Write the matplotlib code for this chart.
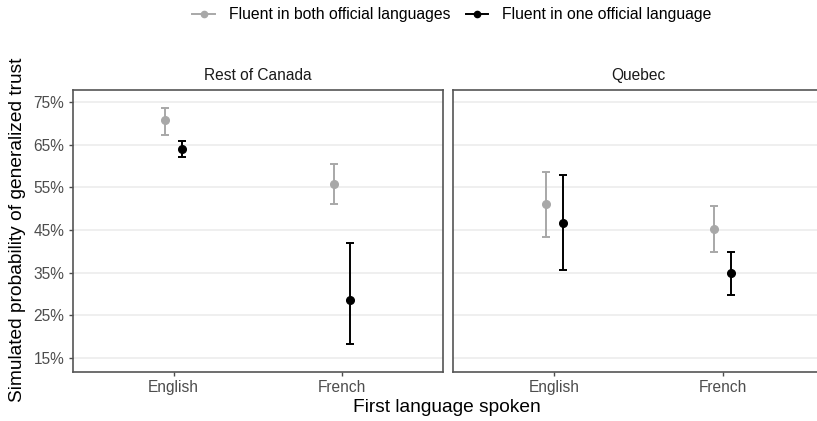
import matplotlib.pyplot as plt
import numpy as np
from matplotlib.lines import Line2D

plt.rcParams['font.family'] = ['Liberation Sans', 'DejaVu Sans']

# Simulated probabilities (%) with 95% intervals
languages = ['English', 'French']
regions = ['Rest of Canada', 'Quebec']
groups = ['Fluent in both official languages', 'Fluent in one official language']

est = {
    'Rest of Canada': {'both': [70.7, 55.7], 'one': [63.9, 28.7]},
    'Quebec': {'both': [51.1, 45.2], 'one': [46.6, 34.9]},
}
low = {
    'Rest of Canada': {'both': [67.2, 51.0], 'one': [62.0, 18.3]},
    'Quebec': {'both': [43.4, 39.8], 'one': [35.6, 29.8]},
}
high = {
    'Rest of Canada': {'both': [73.6, 60.5], 'one': [65.8, 42.0]},
    'Quebec': {'both': [58.5, 50.6], 'one': [57.9, 39.8]},
}
colors = {'both': '#A8A8A8', 'one': '#000000'}
offsets = {'both': -0.05, 'one': 0.05}
yticks = [15, 25, 35, 45, 55, 65, 75]

W, H = 817, 421
fig = plt.figure(figsize=(W / 100, H / 100), dpi=100)

panels = [(72.7, 'Rest of Canada'), (453.3, 'Quebec')]
x = np.arange(1, len(languages) + 1)
for i, (left, region) in enumerate(panels):
    ax = fig.add_axes([left / W, (H - 371.7) / H, 370.3 / W, (371.7 - 90) / H])
    ax.set_xlim(0.4, 2.6)
    ax.set_ylim(11.8, 77.8)
    ax.set_yticks(yticks)
    ax.set_xticks(x)
    ax.set_xticklabels(languages)
    ax.grid(axis='y', color='#EBEBEB', linewidth=1.1)
    ax.set_axisbelow(True)
    for s in ax.spines.values():
        s.set_color('#555555')
        s.set_linewidth(1.2)
    ax.tick_params(colors='#4D4D4D', labelsize=11.2, length=3, width=1, labelcolor='#4D4D4D', pad=3)
    if i == 0:
        ax.set_yticklabels([f'{v}%' for v in yticks])
    else:
        ax.tick_params(axis='y', left=False, labelleft=False)
    for key in ['both', 'one']:
        m = np.array(est[region][key])
        lo = m - np.array(low[region][key])
        hi = np.array(high[region][key]) - m
        ax.errorbar(x + offsets[key], m, yerr=[lo, hi], fmt='o', color=colors[key],
                    ms=5.5, elinewidth=1.4, capsize=3, capthick=1.4, zorder=3)
    ax.set_title(region, fontsize=11.2, color='#1A1A1A', pad=7)

fig.text(18 / W, 1 - 230 / H, 'Simulated probability of generalized trust',
         rotation=90, ha='center', va='center', fontsize=13.8)
fig.text(447 / W, 1 - 408 / H, 'First language spoken', ha='center', va='center', fontsize=13.8)

handles = [Line2D([], [], color=colors[k], marker='o', ms=4.5, lw=1.4) for k in ['both', 'one']]
fig.legend(handles, groups, loc='center', bbox_to_anchor=(452 / W, 1 - 15 / H), ncol=2,
           frameon=False, fontsize=11.3, handlelength=1.45, handletextpad=0.9,
           columnspacing=0.95, borderpad=0)

fig.savefig('out.png', dpi=100)
